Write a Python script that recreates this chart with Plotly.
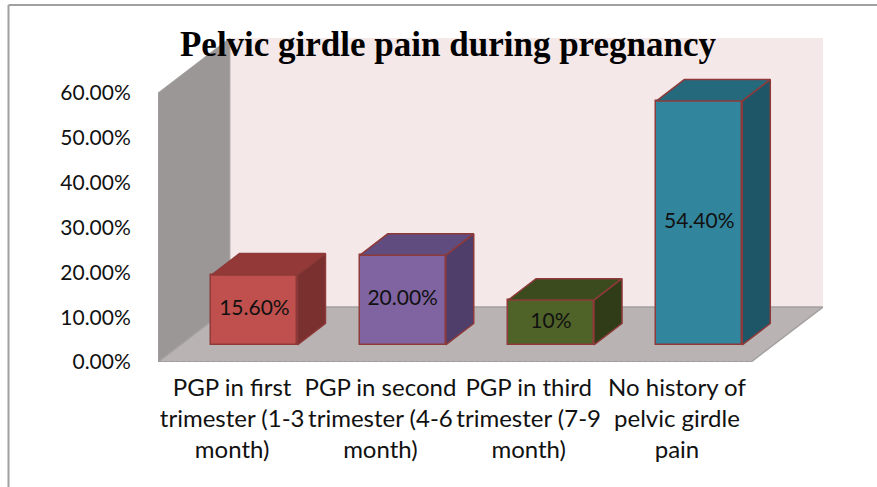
import plotly.graph_objects as go

# ---- data ----
categories = [
    "PGP in first<br>trimester (1-3<br>month)",
    "PGP in second<br>trimester (4-6<br>month)",
    "PGP in third<br>trimester (7-9<br>month)",
    "No history of<br>pelvic girdle<br>pain",
]
values = [15.6, 20.0, 10.0, 54.4]
value_labels = ["15.60%", "20.00%", "10%", "54.40%"]
y_ticks = [0, 10, 20, 30, 40, 50, 60]
y_tick_labels = ["0.00%", "10.00%", "20.00%", "30.00%", "40.00%", "50.00%", "60.00%"]

front_colors = ["#C0504D", "#8064A2", "#4F6228", "#31859C"]
top_colors = ["#933A38", "#604C7E", "#3C4B1E", "#256A7C"]
side_colors = ["#7A302E", "#4F3E69", "#303C18", "#1F5667"]
edge_color = "#8E3A3A"

# ---- pseudo-3D geometry (oblique projection) ----
DX = 0.485      # full depth shift along x (category units)
DY = 12.27      # full depth shift along y (value units)
D0, D1 = 0.31, 0.70   # bar front/back depth fractions
BW = 0.58       # bar width
XMIN, XMAX = -0.5, 3.5 + DX
YMAX = 72.27

fig = go.Figure()

n = len(values)
xs = [i + D0 * DX for i in range(n)]
base = D0 * DY

# front faces
fig.add_trace(go.Bar(
    x=xs, y=values, base=[base] * n, width=BW,
    marker=dict(color=front_colors, line=dict(color=edge_color, width=1.5)),
    hoverinfo="skip", showlegend=False,
))

ddx = (D1 - D0) * DX
ddy = (D1 - D0) * DY
for i, v in enumerate(values):
    xl = xs[i] - BW / 2
    xr = xs[i] + BW / 2
    top = base + v
    fig.add_trace(go.Scatter(
        x=[xl, xr, xr + ddx, xl + ddx, xl],
        y=[top, top, top + ddy, top + ddy, top],
        fill="toself", fillcolor=top_colors[i], mode="lines",
        line=dict(color=edge_color, width=1.5),
        hoverinfo="skip", showlegend=False,
    ))
    fig.add_trace(go.Scatter(
        x=[xr, xr + ddx, xr + ddx, xr, xr],
        y=[base, base + ddy, top + ddy, top, base],
        fill="toself", fillcolor=side_colors[i], mode="lines",
        line=dict(color=edge_color, width=1.5),
        hoverinfo="skip", showlegend=False,
    ))

# value labels
fig.add_trace(go.Scatter(
    x=xs, y=[base + v / 2 for v in values], mode="text",
    text=value_labels,
    textfont=dict(family="Lato, Calibri, sans-serif", size=21, color="#111111"),
    hoverinfo="skip", showlegend=False,
))

# walls and floor
shapes = []
# back wall
shapes.append(dict(type="path", layer="below", xref="x", yref="y",
                   path=f"M {XMIN+DX},{DY} L {XMAX},{DY} L {XMAX},{YMAX} L {XMIN+DX},{YMAX} Z",
                   fillcolor="#F4E8E8", line=dict(width=0)))
# side wall
shapes.append(dict(type="path", layer="below", xref="x", yref="y",
                   path=f"M {XMIN},0 L {XMIN+DX},{DY} L {XMIN+DX},{YMAX} L {XMIN},{60} Z",
                   fillcolor="#9C9797", line=dict(color="#A6A2A2", width=1)))
# floor
shapes.append(dict(type="path", layer="below", xref="x", yref="y",
                   path=f"M {XMIN},0 L {XMIN+DX},{DY} L {XMAX},{DY} L {XMAX-DX},0 Z",
                   fillcolor="#BAB3B3", line=dict(color="#A4A0A0", width=1.5)))
# front floor edge (dotted)
shapes.append(dict(type="line", layer="below", xref="x", yref="y",
                   x0=XMIN, x1=XMAX - DX, y0=0, y1=0,
                   line=dict(color="#9A9A9A", width=2, dash="dot")))

# outer chart border (top and left)
L, R, T, B = 158, 54, 38, 125
pw = 877 - L - R
ph = 487 - T - B
def px_x(p): return (p - L) / pw
def px_y(p): return (487 - B - p) / ph
shapes.append(dict(type="line", xref="paper", yref="paper",
                   x0=px_x(8.5), x1=px_x(880), y0=px_y(5), y1=px_y(5),
                   line=dict(color="#A0A0A0", width=2)))
shapes.append(dict(type="line", xref="paper", yref="paper",
                   x0=px_x(8.5), x1=px_x(8.5), y0=px_y(5), y1=px_y(490),
                   line=dict(color="#A0A0A0", width=2)))

fig.update_layout(
    width=877, height=487, autosize=False,
    margin=dict(l=L, r=R, t=T, b=B, autoexpand=False),
    paper_bgcolor="white", plot_bgcolor="white",
    shapes=shapes,
    title=dict(text="<b>Pelvic girdle pain during pregnancy</b>",
               x=448 / 877, xanchor="center", xref="container",
               y=1 - 44 / 487, yanchor="middle", yref="container",
               font=dict(family="Liberation Serif, Times New Roman, serif", size=35, color="black")),
    font=dict(family="Lato, Calibri, sans-serif", color="#111111"),
    bargap=0,
)
fig.update_xaxes(range=[XMIN, XMAX], tickvals=list(range(n)), ticktext=categories,
                 showgrid=False, zeroline=False, showline=False, automargin=False,
                 tickangle=0,
                 ticks="outside", ticklen=4, tickcolor="rgba(0,0,0,0)",
                 tickfont=dict(size=24, family="Lato, Calibri, sans-serif", color="#111111"),
                 fixedrange=True)
fig.update_yaxes(range=[0, YMAX], tickvals=y_ticks, ticktext=y_tick_labels,
                 showgrid=False, zeroline=False, showline=False, automargin=False,
                 ticks="outside", ticklen=22, tickcolor="rgba(0,0,0,0)",
                 tickfont=dict(size=21, family="Lato, Calibri, sans-serif", color="#111111"),
                 fixedrange=True)

fig.write_html("out.html", config={"displayModeBar": False},
               post_script="document.body.style.margin='0';document.body.style.overflow='hidden';")
